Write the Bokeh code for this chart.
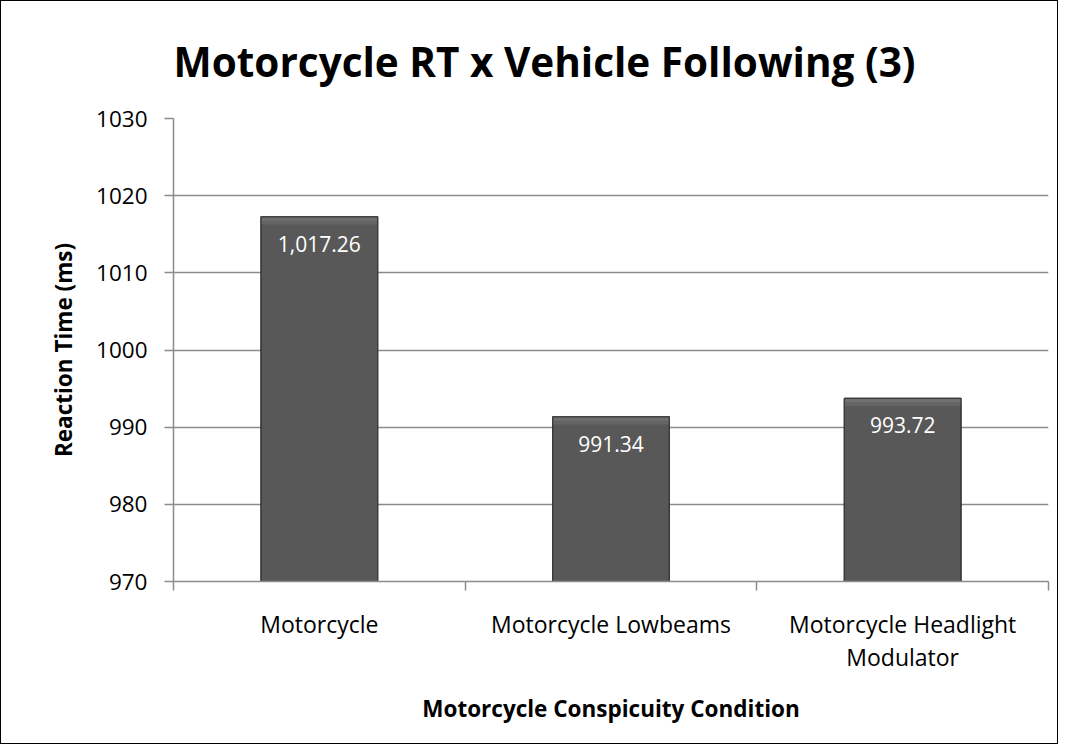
from bokeh.plotting import figure
from bokeh.models import Range1d, FixedTicker, ColumnDataSource
from bokeh.embed import file_html
from bokeh.resources import INLINE
from bokeh.core.properties import value

# ---- data ----
categories = ["Motorcycle", "Motorcycle Lowbeams", "Motorcycle Headlight\nModulator"]
rt_values = [1017.26, 991.34, 993.72]
value_labels = ["1,017.26", "991.34", "993.72"]
y_ticks = [970, 980, 990, 1000, 1010, 1020, 1030]
y_min, y_max = 970, 1030

FONT = "Open Sans"
x_pos = [i + 0.5 for i in range(len(categories))]
boundaries = list(range(len(categories) + 1))
bevel = 1.0  # data units of the lighter top band (style)

src = ColumnDataSource(dict(x=x_pos, top=rt_values, label=value_labels,
                            band=[v - bevel for v in rt_values],
                            band2=[v - bevel / 2 for v in rt_values]))

p = figure(width=1058, height=744, output_backend="svg", toolbar_location=None,
           x_range=Range1d(0, len(categories)), y_range=Range1d(y_min, y_max),
           min_border_left=172, min_border_right=11, min_border_top=117, min_border_bottom=164,
           title="Motorcycle RT x Vehicle Following  (3)")
p.styles = {"border": "1px solid black"}
p.outline_line_color = None
p.background_fill_color = "white"
p.border_fill_color = "white"

p.title.text_font = FONT
p.title.text_font_size = "40.5px"
p.title.text_font_style = "bold"
p.title.text_color = "black"
p.title.align = "left"
p.title.offset = 0
p.title.standoff = 59

# bars (with a lighter bevel band at the top)
p.vbar(x="x", top="top", bottom=y_min, width=0.4, source=src,
       fill_color="#585858", line_color="#3a3a3a", line_width=1.2)
p.vbar(x="x", top="top", bottom="band", width=0.4, source=src,
       fill_color="#646464", line_color=None)
p.vbar(x="x", top="top", bottom="band2", width=0.4, source=src,
       fill_color="#707070", line_color=None)
p.vbar(x="x", top="top", bottom=y_min, width=0.4, source=src,
       fill_color=None, line_color="#3a3a3a", line_width=1.2)
p.text(x="x", y="top", text="label", source=src, y_offset=27,
       text_align="center", text_baseline="middle", text_color="white",
       text_font=value(FONT), text_font_size="21px")

# y axis
p.yaxis.ticker = FixedTicker(ticks=y_ticks)
p.yaxis.axis_label = "Reaction Time (ms)"
p.yaxis.axis_label_text_font = FONT
p.yaxis.axis_label_text_font_style = "bold"
p.yaxis.axis_label_text_font_size = "22.5px"
p.yaxis.axis_label_text_color = "black"
p.yaxis.axis_label_standoff = 14
p.yaxis.major_label_text_font = FONT
p.yaxis.major_label_text_font_size = "22.5px"
p.yaxis.major_label_text_color = "black"
p.yaxis.major_label_standoff = 17
p.yaxis.major_tick_out = 9
p.yaxis.major_tick_in = 0
p.yaxis.minor_tick_line_color = None
p.yaxis.axis_line_color = "#8c8c8c"
p.yaxis.axis_line_width = 1.5
p.yaxis.major_tick_line_color = "#8c8c8c"
p.yaxis.major_tick_line_width = 1.5

# x axis
p.xaxis.ticker = FixedTicker(ticks=x_pos, minor_ticks=boundaries)
p.xaxis.major_label_overrides = {x: c for x, c in zip(x_pos, categories)}
p.xaxis.major_label_text_font = FONT
p.xaxis.major_label_text_font_size = "23px"
p.xaxis.major_label_text_color = "black"
p.xaxis.major_label_text_line_height = 1.05
p.xaxis.major_label_standoff = 17
p.xaxis.major_tick_out = 0
p.xaxis.major_tick_in = 0
p.xaxis.minor_tick_out = 9
p.xaxis.minor_tick_in = 0
p.xaxis.minor_tick_line_color = "#8c8c8c"
p.xaxis.minor_tick_line_width = 1.5
p.xaxis.axis_line_color = "#8c8c8c"
p.xaxis.axis_line_width = 1.5
p.xaxis.axis_label = "Motorcycle Conspicuity Condition"
p.xaxis.axis_label_text_font = FONT
p.xaxis.axis_label_text_font_style = "bold"
p.xaxis.axis_label_text_font_size = "22.5px"
p.xaxis.axis_label_text_color = "black"
p.xaxis.axis_label_standoff = 17

p.xgrid.grid_line_color = None
p.ygrid.grid_line_color = "#8c8c8c"
p.ygrid.grid_line_width = 1.5

open("out.html", "w").write(file_html(p, INLINE))
